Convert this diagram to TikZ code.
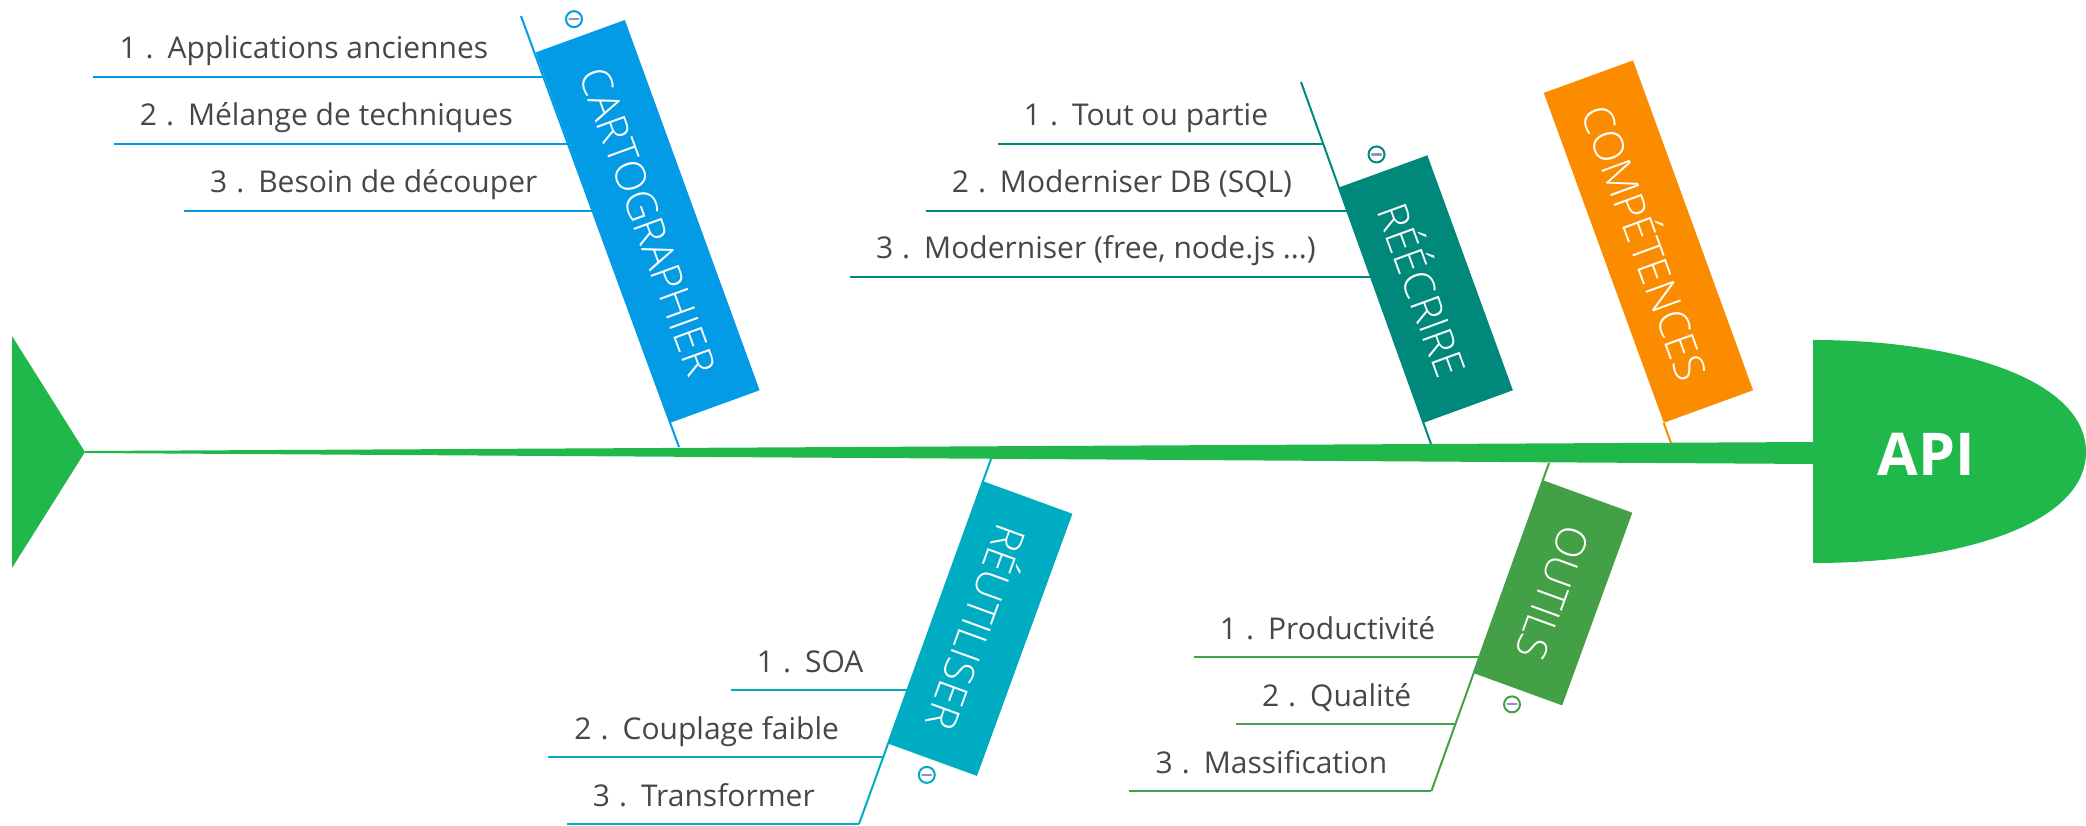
\documentclass[tikz,border=0pt]{standalone}
\usepackage{fontspec}
\setmainfont{Open Sans}
\newfontfamily\lightfont{Open Sans Light}
\usetikzlibrary{calc}
\definecolor{spine}{HTML}{21B84B}
\definecolor{cblue}{HTML}{039BE5}
\definecolor{cteal}{HTML}{00897B}
\definecolor{corange}{HTML}{FB8C00}
\definecolor{ccyan}{HTML}{00ACC1}
\definecolor{cgreen}{HTML}{43A047}
\definecolor{txt}{HTML}{474747}
\definecolor{minusc}{HTML}{8F8FC9}
\newcommand\itm[1]{#1\kern9pt.\kern14pt}
\begin{document}
\begin{tikzpicture}[x=1pt,y=-1pt,
  cat/.style={rectangle, fill=#1, text=white, minimum height=95pt, inner sep=0pt,
              font=\lightfont\fontsize{42}{42}\selectfont},
  upcat/.style={cat=#1, rotate=-70, anchor=south east},
  lowcat/.style={cat=#1, rotate=-110, anchor=south west},
  sub/.style={text=txt, inner sep=0pt, font=\fontsize{30}{30}\selectfont},
  bline/.style={draw=#1, line width=2pt},
  sline/.style={draw=#1, line width=2pt},
  toggle/.style={circle, draw=#1, line width=2pt, fill=white, minimum size=16pt, inner sep=0pt},
  minusbar/.style={draw=minusc, line width=2.2pt, line cap=round},
]
\useasboundingbox (0,0) rectangle (2086,826);

% spine, tail and head
\fill[spine] (12,336) -- (85,452) -- (12,568) -- cycle;
\fill[spine] (85,451) -- (1814,442) -- (1814,464) -- (85,453) -- cycle;
\fill[spine] (1813,340) .. controls (1960,340) and (2086,380) .. (2086,452)
             .. controls (2086,524) and (1960,563) .. (1813,563) -- cycle;
\node[font=\bfseries\fontsize{59}{59}\selectfont, text=white] (api) at (1926,454) {API};

% ---------- CARTOGRAPHIER ----------
\coordinate (c1t) at (521,16);
\coordinate (c1b) at (679,447);
\coordinate (c1p1) at (543.4,77);
\coordinate (c1p2) at (568,144);
\coordinate (c1p3) at (592.5,211);
\coordinate (c1a) at (670.2,423);
\draw[bline=cblue] (c1t) -- (c1b);
\node[upcat=cblue, minimum width=394pt] (c1) at (c1a) {CARTOGRAPHIER};
\node[toggle=cblue] (c1m) at ($(c1.west)!-18pt!(c1.east)$) {};
\draw[minusbar] ($(c1m.center)+(-4.5,0)$) -- ($(c1m.center)+(4.5,0)$);
\node[sub, anchor=base east] (c1s1) at ($(c1p1)+(-55,-18)$) {\itm{1}Applications anciennes};
\node[sub, anchor=base east] (c1s2) at ($(c1p2)+(-55,-18)$) {\itm{2}Mélange de techniques};
\node[sub, anchor=base east] (c1s3) at ($(c1p3)+(-55,-18)$) {\itm{3}Besoin de découper};
\draw[sline=cblue] ($(c1s1.west |- c1p1)+(-26,0)$) -- (c1p1);
\draw[sline=cblue] ($(c1s2.west |- c1p2)+(-26,0)$) -- (c1p2);
\draw[sline=cblue] ($(c1s3.west |- c1p3)+(-26,0)$) -- (c1p3);

% ---------- RÉÉCRIRE ----------
\coordinate (c2t) at (1301,82);
\coordinate (c2b) at (1431,444);
\coordinate (c2p1) at (1323.3,144);
\coordinate (c2p2) at (1347.3,211);
\coordinate (c2p3) at (1371,277);
\coordinate (c2a) at (1423.5,423);
\draw[bline=cteal] (c2t) -- (c2b);
\node[upcat=cteal, minimum width=250pt] (c2) at (c2a) {RÉÉCRIRE};
\node[toggle=cteal] (c2m) at ($(c2.west)!-18pt!(c2.east)$) {};
\draw[minusbar] ($(c2m.center)+(-4.5,0)$) -- ($(c2m.center)+(4.5,0)$);
\node[sub, anchor=base east] (c2s1) at ($(c2p1)+(-55,-18)$) {\itm{1}Tout ou partie};
\node[sub, anchor=base east] (c2s2) at ($(c2p2)+(-55,-18)$) {\itm{2}Moderniser DB (SQL)};
\node[sub, anchor=base east] (c2s3) at ($(c2p3)+(-55,-18)$) {\itm{3}Moderniser (free, node.js ...)};
\draw[sline=cteal] ($(c2s1.west |- c2p1)+(-26,0)$) -- (c2p1);
\draw[sline=cteal] ($(c2s2.west |- c2p2)+(-26,0)$) -- (c2p2);
\draw[sline=cteal] ($(c2s3.west |- c2p3)+(-26,0)$) -- (c2p3);

% ---------- COMPÉTENCES ----------
\coordinate (c3b) at (1671,443);
\coordinate (c3a) at (1663.7,423);
\node[upcat=corange, minimum width=351pt] (c3) at (c3a) {COMPÉTENCES};
\draw[bline=corange] (c3.south east) -- (c3b);

% ---------- RÉUTILISER ----------
\coordinate (c4t) at (991,459);
\coordinate (c4p1) at (907.5,690);
\coordinate (c4p2) at (883.2,757);
\coordinate (c4p3) at (859,824);
\coordinate (c4a) at (983,481);
\draw[bline=ccyan] (c4t) -- (c4p3);
\node[lowcat=ccyan, minimum width=279pt] (c4) at (c4a) {RÉUTILISER};
\node[toggle=ccyan] (c4m) at ($(c4.east)!-16pt!(c4.west)$) {};
\draw[minusbar] ($(c4m.center)+(-4.5,0)$) -- ($(c4m.center)+(4.5,0)$);
\node[sub, anchor=base east] (c4s1) at ($(c4p1)+(-44,-18)$) {\itm{1}SOA};
\node[sub, anchor=base east] (c4s2) at ($(c4p2)+(-44,-18)$) {\itm{2}Couplage faible};
\node[sub, anchor=base east] (c4s3) at ($(c4p3)+(-44,-18)$) {\itm{3}Transformer};
\draw[sline=ccyan] ($(c4s1.west |- c4p1)+(-26,0)$) -- (c4p1);
\draw[sline=ccyan] ($(c4s2.west |- c4p2)+(-26,0)$) -- (c4p2);
\draw[sline=ccyan] ($(c4s3.west |- c4p3)+(-26,0)$) -- (c4p3);

% ---------- OUTILS ----------
\coordinate (c5t) at (1549,463);
\coordinate (c5p1) at (1479.4,657);
\coordinate (c5p2) at (1455.4,724);
\coordinate (c5p3) at (1431.4,791);
\coordinate (c5a) at (1542.9,480);
\draw[bline=cgreen] (c5t) -- (c5p3);
\node[lowcat=cgreen, minimum width=205pt] (c5) at (c5a) {OUTILS};
\node[toggle=cgreen] (c5m) at ($(c5.east)!-16pt!(c5.west)$) {};
\draw[minusbar] ($(c5m.center)+(-4.5,0)$) -- ($(c5m.center)+(4.5,0)$);
\node[sub, anchor=base east] (c5s1) at ($(c5p1)+(-44,-18)$) {\itm{1}Productivité};
\node[sub, anchor=base east] (c5s2) at ($(c5p2)+(-44,-18)$) {\itm{2}Qualité};
\node[sub, anchor=base east] (c5s3) at ($(c5p3)+(-44,-18)$) {\itm{3}Massification};
\draw[sline=cgreen] ($(c5s1.west |- c5p1)+(-26,0)$) -- (c5p1);
\draw[sline=cgreen] ($(c5s2.west |- c5p2)+(-26,0)$) -- (c5p2);
\draw[sline=cgreen] ($(c5s3.west |- c5p3)+(-26,0)$) -- (c5p3);
\end{tikzpicture}
\end{document}
